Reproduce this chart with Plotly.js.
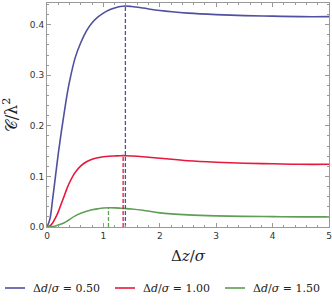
<!DOCTYPE html>
<html><head><meta charset="utf-8">
<script src="https://cdn.plot.ly/plotly-3.0.1.min.js"></script>
<style>html,body{margin:0;padding:0;background:#fff}#plot{width:332px;height:308px}</style>
</head><body><div id="plot"></div>
<script>
const xs = [0, 0.05, 0.1, 0.15, 0.2, 0.25, 0.3, 0.35, 0.4, 0.5, 0.6, 0.7, 0.8, 0.9, 1.0, 1.1, 1.2, 1.3, 1.39, 1.5, 1.7, 2.0, 2.5, 3, 3.5, 4, 4.5, 5];
const blueVals = [0, 0.015, 0.055, 0.1, 0.145, 0.185, 0.222, 0.258, 0.288, 0.335, 0.365, 0.388, 0.404, 0.415, 0.423, 0.429, 0.433, 0.436, 0.437, 0.436, 0.433, 0.428, 0.423, 0.42, 0.418, 0.417, 0.416, 0.416];
const redVals = [0, 0.002, 0.008, 0.018, 0.03, 0.045, 0.06, 0.075, 0.088, 0.108, 0.121, 0.129, 0.134, 0.137, 0.139, 0.140, 0.1405, 0.141, 0.141, 0.1405, 0.139, 0.136, 0.131, 0.128, 0.126, 0.125, 0.124, 0.124];
const greenVals = [0, 0.0005, 0.001, 0.002, 0.004, 0.006, 0.008, 0.011, 0.015, 0.022, 0.027, 0.031, 0.034, 0.036, 0.0375, 0.038, 0.0378, 0.0372, 0.0365, 0.0355, 0.033, 0.028, 0.024, 0.022, 0.021, 0.0205, 0.020, 0.020];
const peakX = [1.39, 1.35, 1.09];
const peakY = [0.437, 0.141, 0.038];
const names = ['Δ<i>d</i>/<i>σ</i> = 0.50', 'Δ<i>d</i>/<i>σ</i> = 1.00', 'Δ<i>d</i>/<i>σ</i> = 1.50'];
const colors = ['#5050a0', '#e8173c', '#5f9e55'];
const series = [blueVals, redVals, greenVals];

const W = 332, H = 308, ML = 47, MR = 3, MT = 3, MB = 81;
const PW = W - ML - MR, PH = H - MT - MB;
const px2x = p => (p - ML) / PW;
const py2y = p => (H - MB - p) / PH;

const traces = [];
series.forEach((v, i) => {
  traces.push({x: xs, y: v, type: 'scatter', mode: 'lines', name: names[i], showlegend: false,
    line: {color: colors[i], width: 1.6, shape: 'spline'}});
});
series.forEach((v, i) => {
  traces.push({x: [peakX[i], peakX[i]], y: [0, peakY[i]], type: 'scatter', mode: 'lines',
    showlegend: false, line: {color: colors[i], width: 1.3, dash: '4px,2px'}});
});

// legend built from names/colors
const shapes = [], annotations = [];
const legY = 288;
names.forEach((n, i) => {
  const x0 = 5 + i * 110;
  shapes.push({type: 'line', xref: 'paper', yref: 'paper', x0: px2x(x0), x1: px2x(x0 + 20),
    y0: py2y(legY), y1: py2y(legY), line: {color: colors[i], width: 1.6}});
  annotations.push({xref: 'paper', yref: 'paper', x: px2x(x0 + 26), y: py2y(legY), xanchor: 'left', yanchor: 'middle',
    text: n, showarrow: false, font: {family: 'DejaVu Serif', size: 11, color: '#222'}});
});

const axisCommon = {showgrid: false, zeroline: false, showline: true, linecolor: '#999', linewidth: 1,
  mirror: 'allticks', ticks: 'inside', ticklen: 4, tickcolor: '#999',
  tickfont: {family: 'DejaVu Sans', size: 9, color: '#333'}};

const layout = {
  width: W, height: H,
  margin: {l: ML, r: MR, t: MT, b: MB},
  paper_bgcolor: '#fff', plot_bgcolor: '#fff',
  showlegend: false,
  shapes: shapes, annotations: annotations,
  xaxis: Object.assign({}, axisCommon, {range: [0, 5], dtick: 1, tick0: 0,
    minor: {dtick: 0.2, ticklen: 2, ticks: 'inside', tickcolor: '#999'},
    title: {text: 'Δ<i>z</i>/<i>σ</i>', font: {family: 'DejaVu Serif', size: 15, color: '#222'}, standoff: 10}}),
  yaxis: Object.assign({}, axisCommon, {range: [0, 0.443], dtick: 0.1, tick0: 0, tickformat: '.1f',
    minor: {dtick: 0.02, ticklen: 2, ticks: 'inside', tickcolor: '#999'},
    title: {text: '𝒞/λ<sup>2</sup>', font: {family: 'DejaVu Serif', size: 16, color: '#222'}, standoff: 8}})
};
Plotly.newPlot('plot', traces, layout, {displayModeBar: false, staticPlot: true});
</script></body></html>
